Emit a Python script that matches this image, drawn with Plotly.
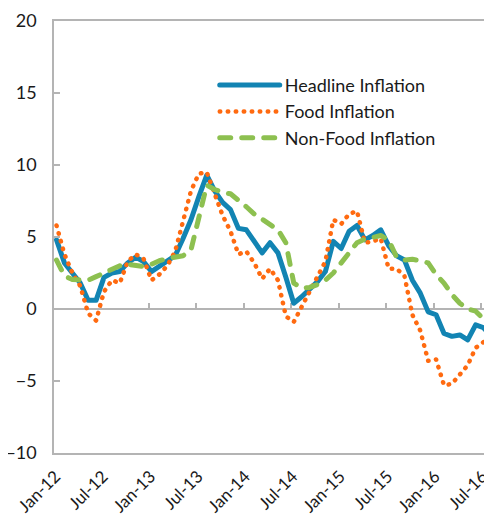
import plotly.graph_objects as go

months = [f"{m}-{y}" for y in range(12, 17) for m in
          ["Jan", "Feb", "Mar", "Apr", "May", "Jun", "Jul", "Aug", "Sep", "Oct", "Nov", "Dec"]][:56]

headline = [4.8, 3.2, 2.5, 1.8, 0.6, 0.6, 2.2, 2.5, 2.6, 3.2, 3.6, 3.3, 2.6, 3.0, 3.4, 3.7,
            4.9, 6.2, 7.8, 9.3, 8.2, 7.4, 6.9, 5.6, 5.5, 4.7, 3.9, 4.6, 3.9, 2.2, 0.4, 0.85,
            1.4, 1.9, 2.6, 4.7, 4.2, 5.4, 5.8, 4.8, 5.1, 5.5, 4.4, 3.7, 3.4, 2.0, 1.1, -0.2,
            -0.4, -1.7, -1.9, -1.8, -2.15, -1.1, -1.3, -1.9]

food = [5.8, 3.8, 2.5, 1.6, -0.3, -0.8, 1.2, 2.0, 1.8, 3.3, 3.8, 3.5, 2.0, 2.4, 3.0, 4.0,
        6.1, 8.2, 9.4, 9.5, 8.0, 6.5, 5.4, 3.8, 4.0, 3.2, 2.1, 2.8, 2.0, -0.5, -0.9, 0.1,
        1.2, 2.25, 3.3, 6.2, 5.9, 6.6, 6.8, 4.6, 4.7, 4.9, 2.8, 2.8, 2.3, -0.4, -1.5, -3.6,
        -3.5, -5.3, -5.2, -4.5, -3.9, -2.7, -2.3, -2.9]

nonfood = [3.4, 2.3, 2.05, 2.0, 2.0, 2.25, 2.5, 2.7, 3.0, 3.1, 3.0, 2.95, 3.1, 3.35, 3.5, 3.6,
           3.7, 4.1, 6.5, 8.6, 8.3, 8.1, 8.0, 7.6, 7.1, 6.6, 6.2, 5.9, 5.5, 4.6, 1.8, 1.45,
           1.5, 1.7, 2.0, 2.5, 3.2, 3.9, 4.6, 4.85, 5.0, 5.1, 4.8, 3.6, 3.4, 3.45, 3.35, 3.2,
           2.4, 1.8, 1.0, 0.4, 0.0, -0.15, -0.7, -1.2]

tick_idx = list(range(0, 56, 6))
tick_labels = [months[i] for i in tick_idx]
y_ticks = [-10, -5, 0, 5, 10, 15, 20]

x = list(range(len(months)))
FONT = "Lato, 'Open Sans', sans-serif"
AX = "#B4B4B4"

fig = go.Figure()
fig.add_trace(go.Scatter(x=x, y=headline, mode="lines", name="Headline Inflation",
                         line=dict(color="#1284B3", width=5), hoverinfo="skip"))
fig.add_trace(go.Scatter(x=x, y=food, mode="lines", name="Food Inflation",
                         line=dict(color="#FF6A10", width=4.5, dash="0.5px,7.5px"), hoverinfo="skip"))
fig.add_trace(go.Scatter(x=x, y=nonfood, mode="lines", name="Non-Food Inflation",
                         line=dict(color="#8DC050", width=5, dash="11px,11px"), hoverinfo="skip"))
fig.add_trace(go.Scatter(x=[0, 55], y=[None, None], xaxis="x2", showlegend=False, hoverinfo="skip"))

# the page body has an 8px default margin, so the figure is sized to fit the window
fig.update_layout(
    width=484, height=506,
    margin=dict(l=46, r=0, t=13, b=61, autoexpand=False),
    paper_bgcolor="white", plot_bgcolor="white",
    font=dict(family=FONT, size=16, color="#1a1a1a"),
    showlegend=True,
    legend=dict(x=0.367, y=0.894, xanchor="left", yanchor="top", itemwidth=60,
                bgcolor="rgba(0,0,0,0)", font=dict(size=18, family=FONT)),
    xaxis=dict(range=[-0.32, 55.07], tickmode="array", tickvals=tick_idx, ticktext=tick_labels,
               tickangle=-45, ticks="", showline=True, linecolor=AX, linewidth=1.5, mirror=True,
               showgrid=False, zeroline=False, tickfont=dict(size=17), automargin=False,
               ticklabelstandoff=5, ticklabelshift=-1, ticklabeloverflow="allow"),
    xaxis2=dict(range=[-0.32, 55.07], overlaying="x", anchor="free", position=1/3,
                tickmode="linear", tick0=-0.32, dtick=6, ticks="inside", ticklen=6, tickwidth=1.5,
                tickcolor=AX, showticklabels=False, showline=False, showgrid=False, zeroline=False,
                layer="below traces", automargin=False),
    yaxis=dict(range=[-10, 20], tickvals=y_ticks, ticks="inside", ticklen=6, tickwidth=1.5,
               tickcolor=AX, showline=True, linecolor=AX, linewidth=1.5, showgrid=False,
               zeroline=True, zerolinecolor=AX, zerolinewidth=2, tickfont=dict(size=18),
               ticklabelstandoff=12, automargin=False),
)

post = ("document.querySelectorAll('.js-line').forEach(function(p){"
        "p.style.strokeLinecap='round';p.style.strokeLinejoin='round';});")
fig.write_html("out.html", post_script=post)
